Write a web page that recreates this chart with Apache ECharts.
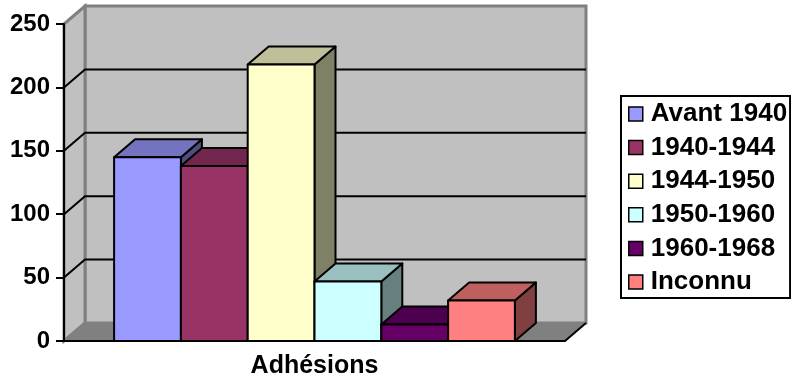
<!DOCTYPE html>
<html>
<head>
<meta charset="utf-8">
<script src="https://cdn.jsdelivr.net/npm/echarts@6/dist/echarts.min.js"></script>
<style>
  html, body { margin: 0; padding: 0; background: #fff; }
  #chart { width: 791px; height: 386px; }
</style>
</head>
<body>
<div id="chart"></div>
<script>
// Membership counts by period of joining
const categories = ['Adhésions'];
const periods = ['Avant 1940', '1940-1944', '1944-1950', '1950-1960', '1960-1968', 'Inconnu'];
const counts = [145, 138, 218, 47, 13, 32];
const yTicks = [0, 50, 100, 150, 200, 250];

const colors = ['#9999FF', '#993366', '#FFFFCC', '#CCFFFF', '#660066', '#FF8080'];
const FONT = '"Liberation Sans", Arial, sans-serif';

// depth offset of the 3D box (pixels)
const DX = 21, DY = -18;

function shade(hex, f) {
  const n = parseInt(hex.slice(1), 16);
  const r = Math.round(((n >> 16) & 255) * f);
  const g = Math.round(((n >> 8) & 255) * f);
  const b = Math.round((n & 255) * f);
  return 'rgb(' + r + ',' + g + ',' + b + ')';
}

// back wall, side wall, floor and gridlines
function renderWalls(params, api) {
  const c = api.coord([0, 0]);
  const bw = api.size([1, 0])[0];
  const x0 = c[0] - bw / 2, x1 = c[0] + bw / 2;
  const yb = c[1];
  const yt = api.coord([0, yTicks[yTicks.length - 1]])[1];
  const children = [];
  const wallFill = '#C0C0C0', edge = '#808080';
  // back wall
  children.push({ type: 'rect', shape: { x: x0 + DX, y: yt + DY, width: x1 - x0, height: yb - yt },
    style: { fill: wallFill, stroke: edge, lineWidth: 3 } });
  // left side wall
  children.push({ type: 'polygon', shape: { points: [[x0, yt], [x0 + DX, yt + DY], [x0 + DX, yb + DY], [x0, yb]] },
    style: { fill: wallFill, stroke: edge, lineWidth: 3 } });
  // floor
  children.push({ type: 'polygon', shape: { points: [[x0, yb], [x0 + DX, yb + DY], [x1 + DX, yb + DY], [x1, yb]] },
    style: { fill: '#808080', stroke: null } });
  children.push({ type: 'line', shape: { x1: x0, y1: yb, x2: x0 + DX, y2: yb + DY }, style: { stroke: edge, lineWidth: 2 } });
  children.push({ type: 'line', shape: { x1: x1, y1: yb, x2: x1 + DX, y2: yb + DY }, style: { stroke: '#000', lineWidth: 2 } });
  // gridlines on the walls
  for (let i = 1; i < yTicks.length - 1; i++) {
    const y = api.coord([0, yTicks[i]])[1];
    children.push({ type: 'polyline', shape: { points: [[x0, y], [x0 + DX, y + DY], [x1 + DX, y + DY]] },
      style: { stroke: '#000', lineWidth: 2, fill: null } });
  }
  return { type: 'group', children: children };
}

// one 3D column per period
function makeBarRenderer(idx) {
  return function (params, api) {
    const c = api.coord([0, 0]);
    const bw = api.size([1, 0])[0];
    const groupW = bw * 0.8;
    const w = groupW / periods.length;
    const x = c[0] - groupW / 2 + idx * w;
    const y0 = c[1];
    const y1 = api.coord([0, api.value(1)])[1];
    const col = colors[idx];
    const line = { stroke: '#000', lineWidth: 2, lineJoin: 'round' };
    return {
      type: 'group',
      children: [
        { type: 'polygon', shape: { points: [[x + w, y1], [x + w + DX, y1 + DY], [x + w + DX, y0 + DY], [x + w, y0]] },
          style: Object.assign({ fill: shade(col, 0.5) }, line) },
        { type: 'polygon', shape: { points: [[x, y1], [x + DX, y1 + DY], [x + w + DX, y1 + DY], [x + w, y1]] },
          style: Object.assign({ fill: shade(col, 0.75) }, line) },
        { type: 'rect', shape: { x: x, y: y1, width: w, height: y0 - y1 },
          style: Object.assign({ fill: col }, line) }
      ]
    };
  };
}

const series = [{
  type: 'custom',
  name: 'walls',
  z: 1,
  silent: true,
  renderItem: renderWalls,
  data: [[0, 0]]
}];
periods.forEach(function (p, i) {
  series.push({
    type: 'custom',
    name: p,
    z: 2 + i,
    itemStyle: { color: colors[i] },
    renderItem: makeBarRenderer(i),
    data: [[0, counts[i]]]
  });
});

const chart = echarts.init(document.getElementById('chart'), null, { renderer: 'canvas' });
chart.setOption({
  animation: false,
  backgroundColor: '#fff',
  grid: { left: 64, right: 226, top: 24, bottom: 45 },
  xAxis: {
    type: 'category',
    data: categories,
    z: 20,
    axisLine: { lineStyle: { color: '#000', width: 2 } },
    axisTick: { length: 8, lineStyle: { color: '#000', width: 2 } },
    axisLabel: { color: '#000', fontSize: 25, fontWeight: 'bold', fontFamily: FONT, margin: 13 },
    splitLine: { show: false }
  },
  yAxis: {
    type: 'value',
    min: 0, max: 250, interval: 50,
    z: 20,
    axisLine: { show: true, lineStyle: { color: '#000', width: 2 } },
    axisTick: { show: true, length: 8, lineStyle: { color: '#000', width: 2 } },
    axisLabel: { color: '#000', fontSize: 24, fontWeight: 'bold', fontFamily: FONT, margin: 14 },
    splitLine: { show: false }
  },
  legend: {
    data: periods.map(function (p, i) {
      return { name: p, icon: 'rect', itemStyle: { color: colors[i], borderColor: '#000', borderWidth: 1.5 } };
    }),
    orient: 'vertical',
    left: 621,
    top: 96,
    padding: [5, 3, 3, 7],
    itemWidth: 14,
    itemHeight: 14,
    itemGap: 7.6,
    borderColor: '#000',
    borderWidth: 2,
    selectedMode: false,
    textStyle: { color: '#000', fontSize: 26, fontWeight: 'bold', fontFamily: FONT, lineHeight: 26, padding: [0, 0, 0, 3] }
  },
  series: series
});
</script>
</body>
</html>
